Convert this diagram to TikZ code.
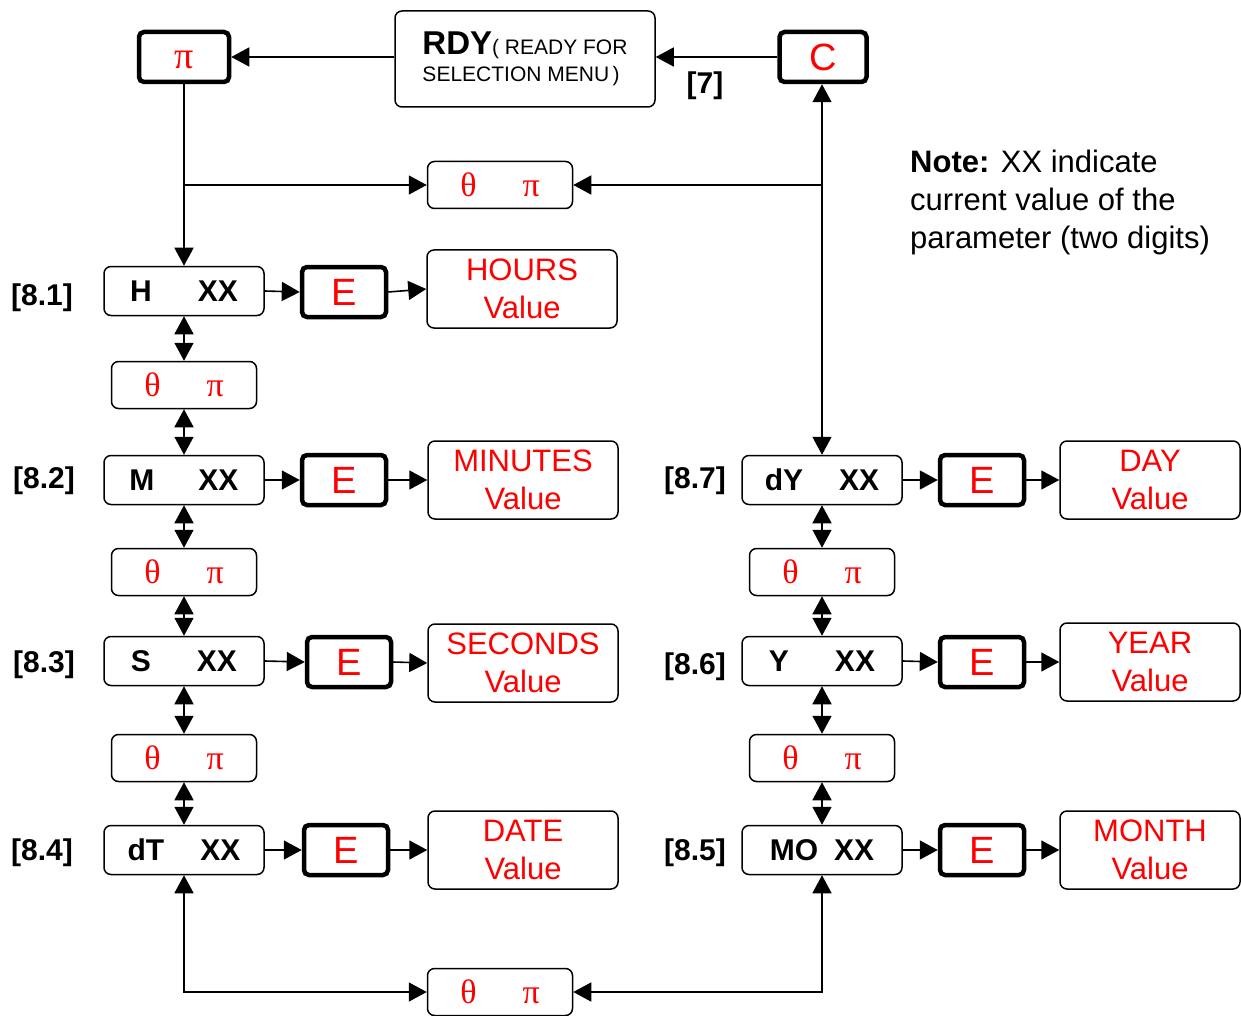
\documentclass[tikz,border=0pt]{standalone}
\usepackage{fontspec}
\setmainfont{Liberation Sans}
\newfontfamily\grk{Liberation Serif}
\usetikzlibrary{arrows.meta}
\begin{document}
\begin{tikzpicture}[x=1pt,y=-1pt,
 box/.style={draw, line width=1.5pt, rounded corners=7pt, inner sep=0pt, align=center},
 key/.style={draw, line width=4.5pt, rounded corners=5pt, inner sep=0pt, minimum width=84pt, minimum height=50pt, text=red, font=\fontsize{38}{40}\selectfont},
 par/.style={box, minimum width=160pt, minimum height=49pt, font=\bfseries\fontsize{30}{34}\selectfont},
 tp/.style={box, minimum width=145pt, minimum height=47pt, text=red, font=\grk\fontsize{34}{36}\selectfont},
 val/.style={box, minimum width=190pt, minimum height=78pt, text=red, font=\fontsize{31}{38}\selectfont},
 lab/.style={font=\bfseries\fontsize{30}{32}\selectfont},
 arr/.style={line width=1.6pt, -{Triangle[length=18pt,width=19pt]}},
 darr/.style={line width=1.6pt, {Triangle[length=18pt,width=19pt]}-{Triangle[length=18pt,width=19pt]}},
]
\useasboundingbox (0,0) rectangle (1241,1016);

% top row
\node[key, minimum width=90pt, text height=24pt, text depth=0pt, font=\grk\fontsize{38}{40}\selectfont] (pi) at (184,57) {π};
\node[box, minimum width=260pt, minimum height=96pt, align=left, font=\fontsize{21}{27}\selectfont] (rdy) at (525,59)
 {{\bfseries\fontsize{33}{30}\selectfont RDY}( READY FOR\\SELECTION MENU\,)};
\node[key, minimum width=87pt] (c) at (823,57) {C};
\node[lab] (l7) at (705,86) {[7]};

% top theta-pi
\node[tp] (tp0) at (500,185) {θ\hspace{46pt}π};

% note
\node[anchor=north west, align=left, inner sep=0pt, font=\fontsize{31}{38}\selectfont] (note) at (910,150)
 {\textbf{Note:} XX indicate\\current value of the\\parameter (two digits)};

% left column
\node[par] (h) at (184,291) {H\hspace{46pt}XX};
\node[tp] (tp1) at (184,385) {θ\hspace{46pt}π};
\node[par] (m) at (184,480) {M\hspace{44pt}XX};
\node[tp] (tp2) at (184,572) {θ\hspace{46pt}π};
\node[par] (s) at (184,661) {S\hspace{46pt}XX};
\node[tp] (tp3) at (184,758) {θ\hspace{46pt}π};
\node[par] (dt) at (184,850) {dT\hspace{36pt}XX};

\node[lab] (l81) at (42,298) {[8.1]};
\node[lab] (l82) at (44,481) {[8.2]};
\node[lab] (l83) at (44,665) {[8.3]};
\node[lab] (l84) at (42,853) {[8.4]};

\node[key] (e1) at (344,292) {E};
\node[key] (e2) at (344,480) {E};
\node[key] (e3) at (349,662) {E};
\node[key] (e4) at (346,850) {E};

\node[val] (v1) at (522,289) {HOURS\\Value};
\node[val] (v2) at (523,480) {MINUTES\\Value};
\node[val] (v3) at (523,663) {SECONDS\\Value};
\node[val] (v4) at (523,850) {DATE\\Value};

% right column
\node[par] (dy) at (822,480) {dY\hspace{36pt}XX};
\node[tp] (tp5) at (822,572) {θ\hspace{46pt}π};
\node[par] (y) at (822,661) {Y\hspace{46pt}XX};
\node[tp] (tp6) at (822,758) {θ\hspace{46pt}π};
\node[par] (mo) at (822,850) {MO\hspace{16pt}XX};

\node[lab] (l87) at (695,481) {[8.7]};
\node[lab] (l86) at (695,667) {[8.6]};
\node[lab] (l85) at (695,853) {[8.5]};

\node[key] (e7) at (982,480) {E};
\node[key] (e6) at (982,662) {E};
\node[key] (e5) at (982,850) {E};

\node[val, minimum width=180pt] (v7) at (1150,480) {DAY\\Value};
\node[val, minimum width=180pt] (v6) at (1150,662) {YEAR\\Value};
\node[val, minimum width=180pt] (v5) at (1150,850) {MONTH\\Value};

% bottom theta-pi
\node[tp] (tpb) at (500,992) {θ\hspace{46pt}π};

% connectors
\draw[arr] (rdy.west |- pi.east) -- (pi.east);
\draw[arr] (c.west) -- (rdy.east |- c.west);
\draw[arr] (pi.south) -- (h.north);
\draw[arr] (pi.south |- tp0.west) -- (tp0.west);
\draw[arr] (dy.north |- tp0.east) -- (tp0.east);
\draw[darr] (dy.north) -- (dy.north |- c.south);

\foreach \a/\b in {h/tp1, tp1/m, m/tp2, tp2/s, s/tp3, tp3/dt, dy/tp5, tp5/y, y/tp6, tp6/mo}
  \draw[darr] (\a.south) -- (\b.north);

\foreach \a/\b/\c in {h/e1/v1, m/e2/v2, s/e3/v3, dt/e4/v4, dy/e7/v7, y/e6/v6, mo/e5/v5}{
  \draw[arr] (\a.east) -- (\b.west);
  \draw[arr] (\b.east) -- (\c.west);
}

\draw[darr] (dt.south) |- (tpb.west);
\draw[darr] (mo.south) |- (tpb.east);
\end{tikzpicture}
\end{document}
